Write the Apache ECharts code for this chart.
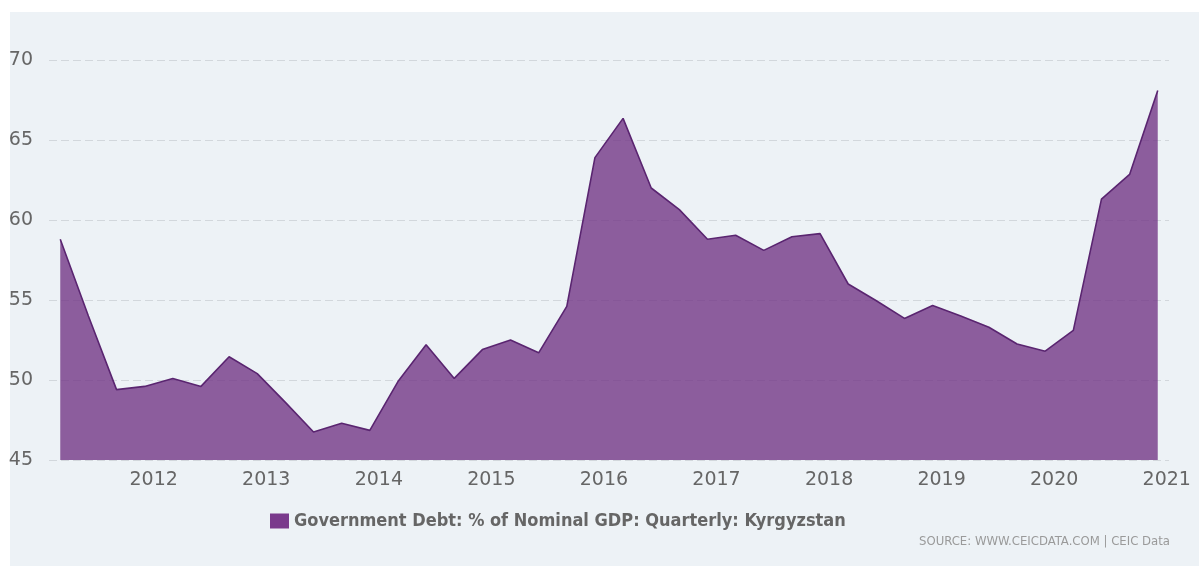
<!DOCTYPE html>
<html>
<head>
<meta charset="utf-8">
<script src="https://cdn.jsdelivr.net/npm/echarts@6/dist/echarts.min.js"></script>
<style>
  html, body { margin: 0; padding: 0; background: #ffffff; }
  #wrap { position: relative; width: 1199px; height: 566px; overflow: hidden; background: #ffffff; }
  #panel { position: absolute; left: 10px; top: 12px; right: 0; bottom: 0; background: #EDF2F6; }
  #chart { position: absolute; left: 0; top: 0; width: 1199px; height: 566px; }
</style>
</head>
<body>
<div id="wrap">
  <div id="panel"></div>
  <div id="chart"></div>
</div>
<script>
// Quarter ends, 2011 Q1 .. 2020 Q4
const quarters = [
  '2011-03', '2011-06', '2011-09', '2011-12',
  '2012-03', '2012-06', '2012-09', '2012-12',
  '2013-03', '2013-06', '2013-09', '2013-12',
  '2014-03', '2014-06', '2014-09', '2014-12',
  '2015-03', '2015-06', '2015-09', '2015-12',
  '2016-03', '2016-06', '2016-09', '2016-12',
  '2017-03', '2017-06', '2017-09', '2017-12',
  '2018-03', '2018-06', '2018-09', '2018-12',
  '2019-03', '2019-06', '2019-09', '2019-12',
  '2020-03', '2020-06', '2020-09', '2020-12'
];

// Government debt, % of nominal GDP
const debtPctGdp = [
  58.8, 54.0, 49.4, 49.6,
  50.1, 49.6, 51.45, 50.4,
  48.6, 46.75, 47.3, 46.85,
  49.9, 52.2, 50.1, 51.9,
  52.5, 51.7, 54.6, 63.9,
  66.35, 62.0, 60.65, 58.8,
  59.05, 58.1, 58.95, 59.15,
  56.0, 54.95, 53.85, 54.65,
  54.0, 53.3, 52.25, 51.8,
  53.1, 61.3, 62.85, 68.1
];

const yearLabels = ['2012', '2013', '2014', '2015', '2016', '2017', '2018', '2019', '2020', '2021'];
const yTicks = [45, 50, 55, 60, 65, 70];

const seriesName = 'Government Debt: % of Nominal GDP: Quarterly: Kyrgyzstan';
const sourceText = 'SOURCE: WWW.CEICDATA.COM | CEIC Data';

// quarter end 'YYYY-MM' -> fractional year (end of that month)
function toYear(q) {
  const p = q.split('-').map(Number);
  return p[0] + p[1] / 12;
}

const xs = quarters.map(toYear);
const yearTicks = yearLabels.map(Number);
const PAD = 0.1; // a little room either side of the data

const chart = echarts.init(document.getElementById('chart'), null, { renderer: 'canvas' });

chart.setOption({
  animation: false,
  backgroundColor: 'transparent',
  grid: { left: 49, right: 30, top: 60, bottom: 106, containLabel: false },
  xAxis: {
    type: 'value',
    min: xs[0] - PAD,
    max: xs[xs.length - 1] + PAD,
    axisLine: { show: false },
    axisTick: { show: false },
    splitLine: { show: false },
    axisLabel: {
      customValues: yearTicks,
      formatter: function (v) { return String(Math.round(v)); },
      color: '#666666',
      fontFamily: 'DejaVu Sans',
      fontSize: 19,
      margin: 11,
      padding: [0, 0, 0, 18],
      hideOverlap: false
    }
  },
  yAxis: {
    type: 'value',
    min: yTicks[0],
    max: yTicks[yTicks.length - 1],
    interval: 5,
    axisLine: { show: false },
    axisTick: { show: false },
    axisLabel: {
      color: '#666666',
      fontFamily: 'DejaVu Sans',
      fontSize: 19,
      margin: 16
    },
    splitLine: {
      show: true,
      lineStyle: { color: '#D2D7DC', width: 1, type: [8, 4] }
    }
  },
  legend: {
    left: 270,
    top: 512,
    icon: 'rect',
    itemWidth: 19,
    itemHeight: 15,
    itemGap: 10,
    padding: 0,
    data: [seriesName],
    textStyle: {
      color: '#666666',
      fontFamily: 'DejaVu Sans Condensed',
      fontWeight: 'bold',
      fontSize: 18
    }
  },
  graphic: [{
    type: 'text',
    right: 29,
    top: 535,
    style: {
      text: sourceText,
      fill: '#9A9A9A',
      font: '13px "DejaVu Sans Condensed"'
    }
  }],
  series: [{
    name: seriesName,
    type: 'line',
    data: xs.map((x, i) => [x, debtPctGdp[i]]),
    showSymbol: false,
    symbol: 'none',
    itemStyle: { color: '#7A3A8C' },
    lineStyle: { color: '#5A2570', width: 1.6 },
    areaStyle: { color: '#733787', opacity: 0.8, origin: 'start' },
    z: 3
  }]
});
</script>
</body>
</html>
